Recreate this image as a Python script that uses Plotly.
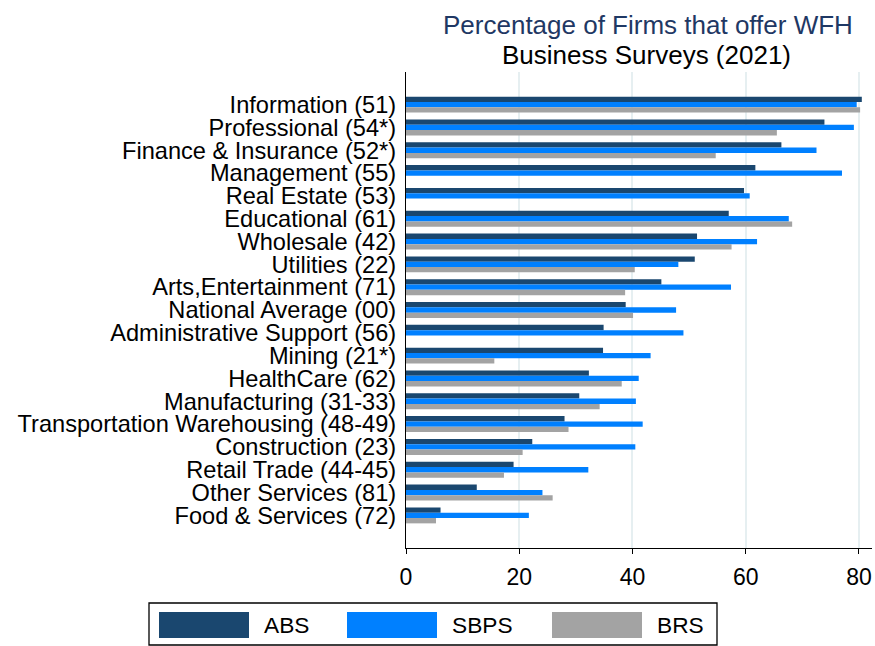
import plotly.graph_objects as go

categories = [
    "Information (51)", "Professional (54*)", "Finance & Insurance (52*)",
    "Management (55)", "Real Estate (53)", "Educational (61)", "Wholesale (42)",
    "Utilities (22)", "Arts,Entertainment (71)", "National Average (00)",
    "Administrative Support (56)", "Mining (21*)", "HealthCare (62)",
    "Manufacturing (31-33)", "Transportation Warehousing (48-49)",
    "Construction (23)", "Retail Trade (44-45)", "Other Services (81)",
    "Food & Services (72)",
]
abs_vals = [80.5, 73.9, 66.3, 61.7, 59.7, 57.0, 51.4, 51.0, 45.1, 38.8,
            34.9, 34.8, 32.3, 30.6, 28.0, 22.3, 19.0, 12.5, 6.1]
sbps_vals = [79.6, 79.1, 72.5, 77.0, 60.7, 67.6, 62.0, 48.1, 57.4, 47.7,
             49.0, 43.2, 41.1, 40.6, 41.8, 40.5, 32.2, 24.1, 21.7]
brs_vals = [80.2, 65.5, 54.7, None, None, 68.2, 57.5, 40.4, 38.7, 40.1,
            None, 15.6, 38.1, 34.2, 28.7, 20.6, 17.3, 25.9, 5.3]
series_names = ["ABS", "SBPS", "BRS"]
series_colors = ["#1a476f", "#0080ff", "#a3a3a3"]
x_ticks = [0, 20, 40, 60, 80]

FONT = "Liberation Sans, Arial, sans-serif"
W, H = 875, 646
L, R, T, B = 406, 872, 72, 548  # plot area in pixels

pos = list(range(len(categories)))

fig = go.Figure()
for name, vals, col in zip(series_names, [abs_vals, sbps_vals, brs_vals], series_colors):
    fig.add_trace(go.Bar(
        y=pos, x=vals, name=name, orientation="h",
        marker=dict(color=col, line=dict(width=0)),
        showlegend=False,
    ))


def px_x(p):
    return (p - L) / (R - L)


def px_y(p):
    return (B - p) / (B - T)


shapes = []
annotations = []

# Title
annotations.append(dict(
    text="Percentage of Firms that offer WFH", x=px_x(648), y=px_y(25),
    xref="paper", yref="paper", xanchor="center", yanchor="middle",
    showarrow=False, font=dict(family=FONT, size=26, color="#1f3864")))
annotations.append(dict(
    text="Business Surveys (2021)", x=px_x(646), y=px_y(55),
    xref="paper", yref="paper", xanchor="center", yanchor="middle",
    showarrow=False, font=dict(family=FONT, size=26, color="#000000")))

# Legend (drawn manually to match large swatches)
shapes.append(dict(type="rect", xref="paper", yref="paper",
                   x0=px_x(149), x1=px_x(717), y0=px_y(603), y1=px_y(645),
                   line=dict(color="#000000", width=1.3), fillcolor="rgba(0,0,0,0)"))
sw_x = [159, 347, 552]
for name, col, sx in zip(series_names, series_colors, sw_x):
    shapes.append(dict(type="rect", xref="paper", yref="paper",
                       x0=px_x(sx), x1=px_x(sx + 90), y0=px_y(612), y1=px_y(638),
                       line=dict(width=0), fillcolor=col))
    annotations.append(dict(
        text=name, x=px_x(sx + 103), y=px_y(625), xref="paper", yref="paper",
        xanchor="left", yanchor="middle", showarrow=False,
        font=dict(family=FONT, size=22.7, color="#000000")))

fig.update_layout(
    width=W, height=H,
    margin=dict(l=L, r=W - R, t=T, b=H - B, pad=0),
    paper_bgcolor="white", plot_bgcolor="white",
    barmode="group", bargap=0.3, bargroupgap=0,
    font=dict(family=FONT, color="#000000"),
    shapes=shapes, annotations=annotations,
    xaxis=dict(
        range=[0, 82.3], tickvals=x_ticks, ticktext=[str(t) for t in x_ticks],
        showgrid=True, gridcolor="#e6eff1", gridwidth=1.5,
        zeroline=False, showline=True, linecolor="#000000", linewidth=1.3,
        ticks="outside", ticklen=5, tickcolor="#000000", tickwidth=1.3,
        tickfont=dict(family=FONT, size=23, color="#000000"),
        ticklabelstandoff=3,
    ),
    yaxis=dict(
        range=[len(categories) - 1 + 1.43, -1.43],
        tickvals=pos, ticktext=categories,
        showgrid=False, zeroline=False, showline=True,
        linecolor="#000000", linewidth=1.3, ticks="",
        tickfont=dict(family=FONT, size=23.6, color="#000000"),
        ticklabelstandoff=4,
    ),
)

fig.write_html(
    "out.html",
    config={"displayModeBar": False},
    post_script="document.body.style.margin='0px';document.body.style.overflow='hidden';",
)
